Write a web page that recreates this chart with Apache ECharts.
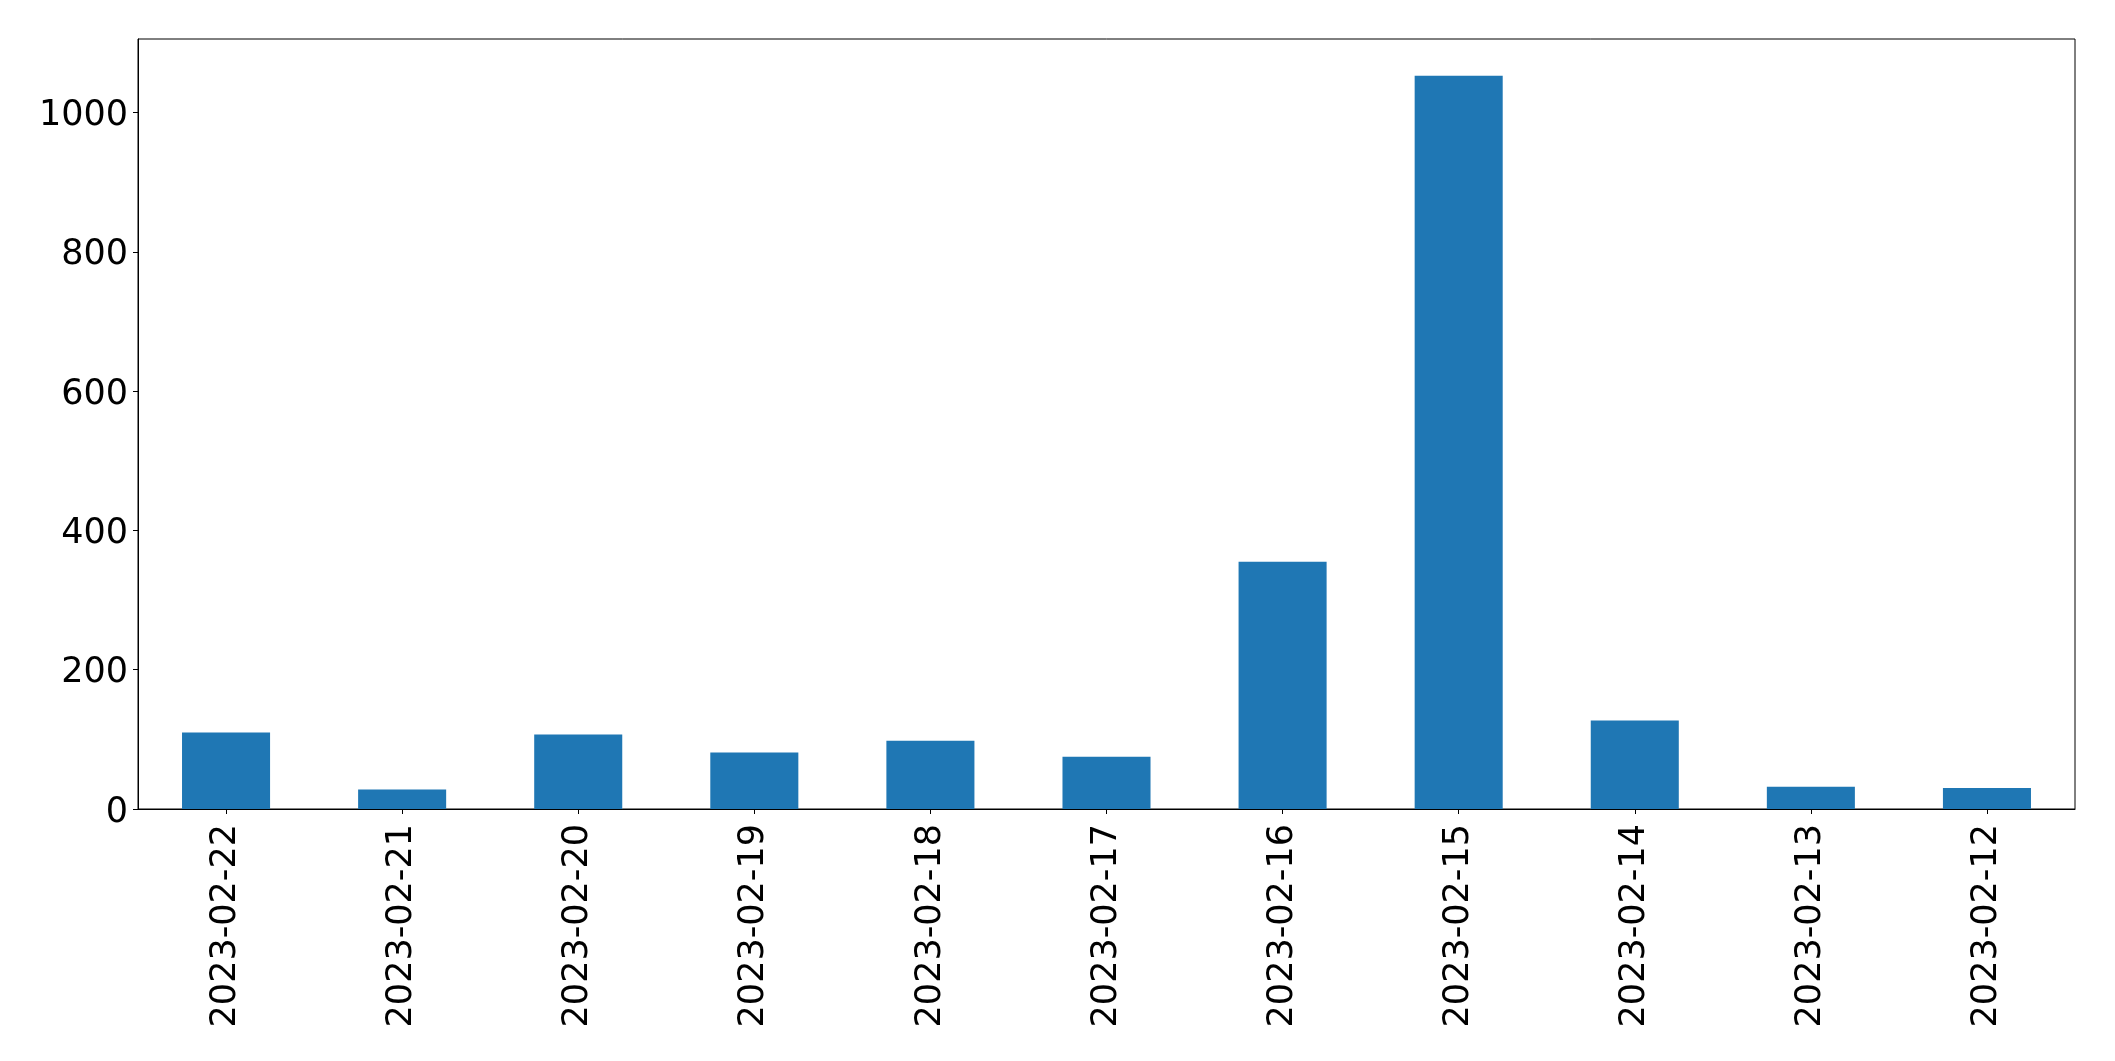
<!DOCTYPE html>
<html>
<head>
<meta charset="utf-8">
<script src="https://cdn.jsdelivr.net/npm/echarts@6/dist/echarts.min.js"></script>
<style>
html, body { margin: 0; padding: 0; background: #ffffff; }
#chart { width: 2115px; height: 1061px; }
</style>
</head>
<body>
<div id="chart"></div>
<script>
const categories = ['2023-02-22', '2023-02-21', '2023-02-20', '2023-02-19', '2023-02-18', '2023-02-17', '2023-02-16', '2023-02-15', '2023-02-14', '2023-02-13', '2023-02-12'];
const values = [110, 28, 107, 81, 98, 75, 355, 1053, 127, 32, 30];
const yTicks = [0, 200, 400, 600, 800, 1000];
const yMax = 1105.65;

const chart = echarts.init(document.getElementById('chart'), null, { renderer: 'canvas' });
const font = 'DejaVu Sans';
chart.setOption({
  animation: false,
  backgroundColor: '#ffffff',
  grid: {
    left: 138, right: 40, top: 39, bottom: 252,
    show: true, borderColor: '#000000', borderWidth: 1, backgroundColor: 'transparent'
  },
  xAxis: {
    type: 'category',
    data: categories,
    boundaryGap: true,
    axisLine: { show: true, lineStyle: { color: '#000000', width: 1 } },
    axisTick: { show: true, alignWithLabel: true, length: 5, lineStyle: { color: '#000000' } },
    axisLabel: { rotate: 90, interval: 0, margin: 15, color: '#000000', fontFamily: font, fontSize: 35 },
    splitLine: { show: false }
  },
  yAxis: {
    type: 'value',
    min: 0,
    max: yMax,
    axisLine: { show: true, lineStyle: { color: '#000000', width: 1 } },
    axisTick: { show: true, length: 5, lineStyle: { color: '#000000' }, customValues: yTicks },
    axisLabel: {
      margin: 10, color: '#000000', fontFamily: font, fontSize: 35, customValues: yTicks,
      formatter: function (v) { return '{n|' + v + '}'; },
      rich: { n: { fontFamily: font, fontSize: 35, color: '#000000', padding: [7, 0, 0, 0] } }
    },
    splitLine: { show: false }
  },
  series: [{
    type: 'bar',
    data: values,
    barWidth: '50%',
    itemStyle: { color: '#1f77b4' }
  }]
});
</script>
</body>
</html>
